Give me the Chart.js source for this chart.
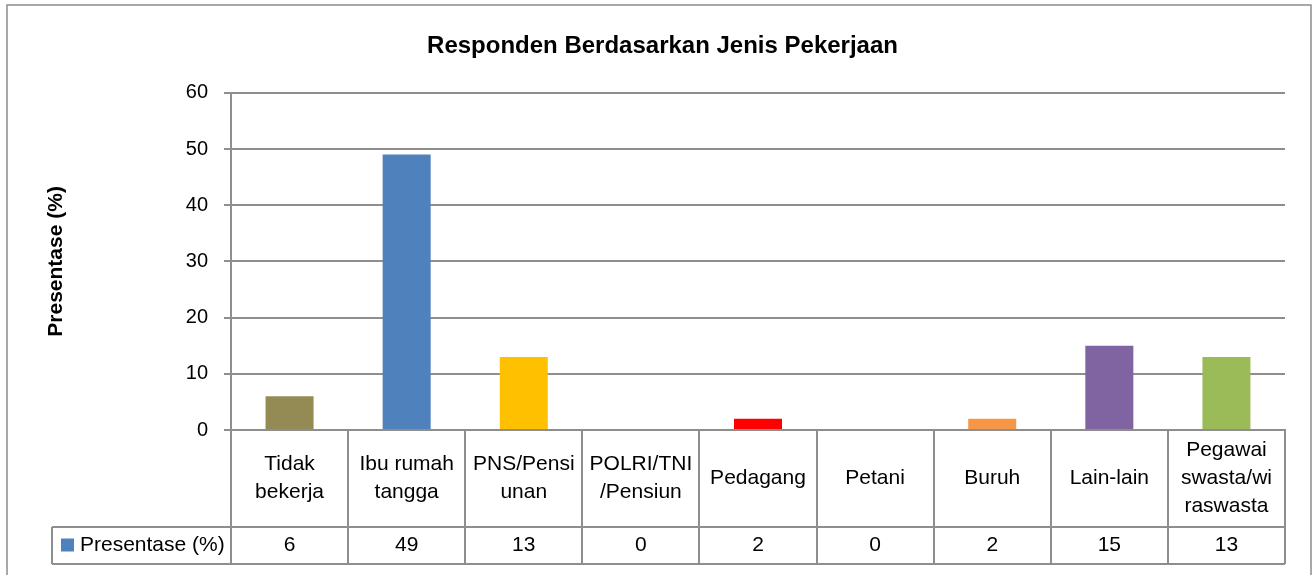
<!DOCTYPE html>
<html>
<head>
<meta charset="utf-8">
<script src="https://cdn.jsdelivr.net/npm/chart.js@4"></script>
<style>
  html, body { margin:0; padding:0; background:#fff; }
  #wrap { width:1314px; height:575px; }
</style>
</head>
<body>
<div id="wrap"><canvas id="jobChart" width="1314" height="575"></canvas></div>
<script>
// data
var categories = [
    ["Tidak", "bekerja"],
    ["Ibu rumah", "tangga"],
    ["PNS/Pensi", "unan"],
    ["POLRI/TNI", "/Pensiun"],
    ["Pedagang"],
    ["Petani"],
    ["Buruh"],
    ["Lain-lain"],
    ["Pegawai", "swasta/wi", "raswasta"]
];
var presentase = [6, 49, 13, 0, 2, 0, 2, 15, 13];
var barColors = ['#948A54', '#4F81BD', '#FFC000', '#C0504D', '#FF0000', '#4BACC6', '#F79646', '#8064A2', '#9BBB59'];
var seriesName = 'Presentase (%)';
var yTicks = [0, 10, 20, 30, 40, 50, 60];

var lineGrey = '#8e8e8e';
var fontFam = '"Liberation Sans", Arial, sans-serif';

// draws outer frame + the data table under the plot
var dataTablePlugin = {
    id: 'dataTable',
    afterDraw: function(chart) {
        var ctx = chart.ctx;
        var x = chart.scales.x;
        var area = chart.chartArea;
        var n = categories.length;
        var colW = (area.right - area.left) / n;
        var rowTop = area.bottom;
        var rowMid = rowTop + 97;
        var rowBot = rowMid + 37;
        var keyLeft = 52;

        ctx.save();
        ctx.strokeStyle = lineGrey;
        ctx.lineWidth = 2;

        // table grid
        ctx.beginPath();
        ctx.moveTo(keyLeft, rowMid); ctx.lineTo(area.right, rowMid);
        ctx.moveTo(keyLeft, rowBot); ctx.lineTo(area.right, rowBot);
        ctx.moveTo(keyLeft, rowMid); ctx.lineTo(keyLeft, rowBot);
        for (var i = 0; i <= n; i++) {
            var bx = Math.round(area.left + i * colW);
            ctx.moveTo(bx, rowTop); ctx.lineTo(bx, rowBot);
        }
        ctx.stroke();

        // texts
        ctx.fillStyle = '#000';
        ctx.font = '21px ' + fontFam;
        ctx.textAlign = 'center';
        ctx.textBaseline = 'middle';
        var lh = 28;
        for (var j = 0; j < n; j++) {
            var cx = x.getPixelForValue(j);
            var lines = categories[j];
            var cy = (rowTop + rowMid) / 2 - (lines.length - 1) * lh / 2;
            for (var k = 0; k < lines.length; k++) {
                ctx.fillText(lines[k], cx, cy + k * lh);
            }
            ctx.fillText(String(presentase[j]), cx, (rowMid + rowBot) / 2);
        }

        // legend key
        ctx.fillStyle = '#4F81BD';
        ctx.fillRect(61, (rowMid + rowBot) / 2 - 7, 13, 13);
        ctx.fillStyle = '#000';
        ctx.textAlign = 'left';
        ctx.fillText(seriesName, 80, (rowMid + rowBot) / 2);

        // outer frame
        ctx.lineWidth = 1.5;
        ctx.strokeStyle = '#8c8c8c';
        ctx.strokeRect(7, 5, 1304, 600);
        ctx.restore();
    }
};

new Chart(document.getElementById('jobChart'), {
    type: 'bar',
    data: {
        labels: categories,
        datasets: [{
            label: seriesName,
            data: presentase,
            backgroundColor: barColors,
            categoryPercentage: 0.82,
            barPercentage: 0.5
        }]
    },
    options: {
        responsive: false,
        animation: false,
        layout: { padding: { left: 40, right: 29, top: 0, bottom: 0 } },
        plugins: {
            legend: { display: false },
            tooltip: { enabled: false },
            title: {
                display: true,
                text: 'Responden Berdasarkan Jenis Pekerjaan',
                color: '#000',
                font: { family: fontFam, size: 24, weight: 'bold', lineHeight: 1.2 },
                padding: { top: 32, bottom: 32 }
            }
        },
        scales: {
            x: {
                grid: { display: false, drawTicks: false },
                border: { display: true, color: lineGrey, width: 2 },
                ticks: { display: false },
                afterFit: function(scale) { scale.height = 145; }
            },
            y: {
                min: 0,
                max: 60,
                afterBuildTicks: function(scale) {
                    scale.ticks = yTicks.map(function(v) { return { value: v }; });
                },
                grid: { color: lineGrey, lineWidth: 2, tickLength: 7 },
                border: { display: true, color: lineGrey, width: 2 },
                ticks: {
                    color: '#000',
                    padding: 16,
                    font: { family: fontFam, size: 20 }
                },
                title: {
                    display: true,
                    text: seriesName,
                    color: '#000',
                    font: { family: fontFam, size: 21, weight: 'bold', lineHeight: 1.2 },
                    padding: { top: 4, bottom: 0 }
                },
                afterFit: function(scale) { scale.width = 191; }
            }
        }
    },
    plugins: [dataTablePlugin]
});
</script>
</body>
</html>
